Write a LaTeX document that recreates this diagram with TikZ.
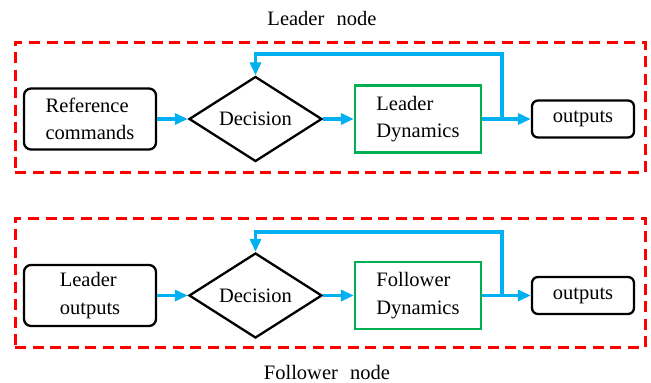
\documentclass[tikz,border=0pt]{standalone}
\usepackage{fontspec}
\setmainfont{Liberation Serif}
\usetikzlibrary{arrows.meta,shapes.geometric}
\definecolor{lblue}{RGB}{0,176,240}
\definecolor{lgreen}{RGB}{0,176,80}
\begin{document}
\begin{tikzpicture}[x=1pt,y=-1pt,
  font=\fontsize{20.5}{27.5}\selectfont,
  frame/.style={draw=red, line width=3pt, dash pattern=on 11pt off 6.5pt,
    minimum width=630pt, inner sep=0},
  blk/.style={draw=black, line width=2.3pt, rounded corners=7pt, align=left, inner sep=0},
  dynbox/.style={draw=lgreen, line width=2.2pt, align=left, inner sep=0,
    minimum width=126pt, minimum height=67pt},
  decbox/.style={diamond, draw=black, line width=2.3pt, aspect=1.565, inner sep=0,
    minimum width=133pt, minimum height=85pt},
  flow/.style={draw=lblue, line width=3.2pt, -{Triangle[length=13pt,width=11pt]}},
  title/.style={inner sep=0}]
\useasboundingbox (0,0) rectangle (651,383);

% ---- Leader node ----
\node[title] (t1) at (322,18) {Leader\hspace{0.6em}node};
\node[frame, minimum height=130pt] (f1) at (330,107) {};
\node[blk, minimum width=132pt, minimum height=61pt] (ref1) at (90,119) {Reference\\commands};
\node[decbox] (dec1) at (255.5,119) {Decision};
\node[dynbox] (dyn1) at (418,119) {Leader\\Dynamics};
\node[blk, minimum width=102pt, minimum height=37pt, rounded corners=6pt] (out1) at (583,119) {outputs};
\coordinate (br1) at (502,119);
\coordinate (tp1) at (502,54);
\draw[flow] (ref1) -- (dec1);
\draw[flow] (dec1) -- (dyn1);
\draw[flow] (dyn1) -- (out1);
\draw[flow] (br1) -- (tp1) -| (dec1.north);

% ---- Follower node ----
\node[title] (t2) at (327,372) {Follower\hspace{0.6em}node};
\node[frame, minimum height=129pt] (f2) at (330,282.5) {};
\node[blk, minimum width=132pt, minimum height=61pt] (ref2) at (90,295.5) {Leader\\outputs};
\node[decbox] (dec2) at (255.5,295.5) {Decision};
\node[dynbox] (dyn2) at (418,295.5) {Follower\\Dynamics};
\node[blk, minimum width=102pt, minimum height=37pt, rounded corners=6pt] (out2) at (583,295.5) {outputs};
\coordinate (br2) at (502,295.5);
\coordinate (tp2) at (502,232);
\draw[flow] (ref2) -- (dec2);
\draw[flow] (dec2) -- (dyn2);
\draw[flow] (dyn2) -- (out2);
\draw[flow] (br2) -- (tp2) -| (dec2.north);
\end{tikzpicture}
\end{document}
